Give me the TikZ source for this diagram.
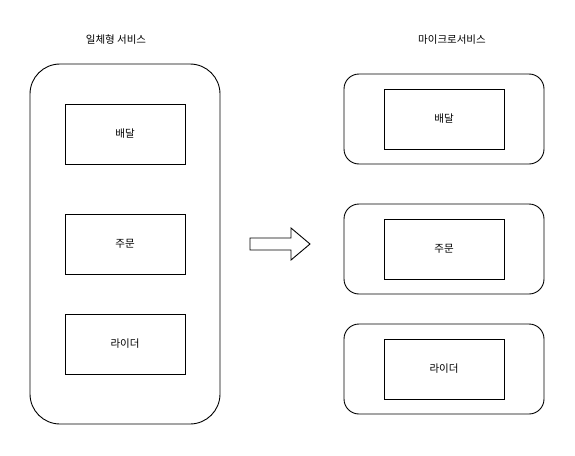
\documentclass[tikz,border=0pt]{standalone}
\usepackage{fontspec}
\newfontfamily\kr{Noto Sans CJK KR}
\usetikzlibrary{shapes.arrows}
\begin{document}
\begin{tikzpicture}[x=1pt,y=-1pt,
  lbl/.style={font=\kr\fontsize{10.5}{12}\selectfont},
  svc/.style={draw=black, line width=0.9pt, minimum width=120pt, minimum height=60pt, inner sep=0pt, font=\kr\fontsize{10.5}{12}\selectfont},
  outer/.style={draw=black, line width=0.9pt}]
\useasboundingbox (0,0) rectangle (575,455);
% left monolith
\draw[outer, rounded corners=30pt] (30,64) rectangle (220,424);
\node[lbl] (t1) at (116,40) {일체형 서비스};
\node[svc] (m1) at (125,134) {배달};
\node[svc] (m2) at (125,244) {주문};
\node[svc] (m3) at (125,344) {라이더};
% arrow
\draw[line width=0.9pt, fill=white, line join=miter]
  (250,238) -- (291,238) -- (291,228) -- (310,244) -- (291,260) -- (291,250) -- (250,250) -- cycle;
% right microservices
\node[lbl] (t2) at (452,40) {마이크로서비스};
\draw[outer, rounded corners=15pt] (344,74) rectangle (544,164);
\draw[outer, rounded corners=15pt] (344,204) rectangle (544,294);
\draw[outer, rounded corners=15pt] (344,324) rectangle (544,414);
\node[svc] (s1) at (444,119) {배달};
\node[svc] (s2) at (444,249) {주문};
\node[svc] (s3) at (444,369) {라이더};
\end{tikzpicture}
\end{document}
